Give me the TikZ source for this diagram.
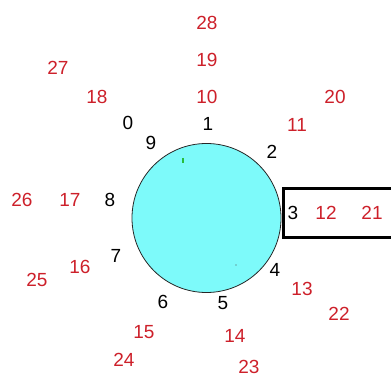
\documentclass[tikz,border=0pt]{standalone}
\usepackage{fontspec}
\setmainfont{Liberation Sans}
\usepackage{tikz}
\definecolor{discfill}{RGB}{125,250,250}
\definecolor{numred}{RGB}{205,32,42}
\definecolor{markgreen}{RGB}{40,190,60}

\tikzset{
  numtext/.style={inner sep=0pt,font=\fontsize{19}{22}\selectfont},
  blk/.style={numtext,text=black},
  rd/.style={numtext,text=numred},
}

\begin{document}
\begin{tikzpicture}[x=1pt,y=-1pt]
  \useasboundingbox (0,0) rectangle (391,377);
  % the disc
  \coordinate (c) at (206.5,218);
  \filldraw[fill=discfill,draw=black!85,line width=0.8pt] (c) circle (74.5);
  \draw[markgreen,line width=1.2pt] (183,158) -- (183,163);
  \fill[black!70] (236,265) circle (0.7);
  % box around position 3
  \draw[line width=3pt] (396,188) -| (283,237) -- (396,237);
  % inner ring
  \node[blk] (n0) at (128,123) {0};
  \node[blk] (n1) at (208,124) {1};
  \node[blk] (n2) at (272,152) {2};
  \node[blk] (n3) at (293,213) {3};
  \node[blk] (n4) at (275,270) {4};
  \node[blk] (n5) at (223,303) {5};
  \node[blk] (n6) at (163,302) {6};
  \node[blk] (n7) at (116,256) {7};
  \node[blk] (n8) at (110,200) {8};
  \node[blk] (n9) at (151,143) {9};
  % second ring
  \node[rd] (n10) at (207,97) {10};
  \node[rd] (n11) at (297,125) {11};
  \node[rd] (n12) at (326,213) {12};
  \node[rd] (n13) at (302,289) {13};
  \node[rd] (n14) at (235,336) {14};
  \node[rd] (n15) at (144,332) {15};
  \node[rd] (n16) at (80,267) {16};
  \node[rd] (n17) at (70,200) {17};
  \node[rd] (n18) at (97,97) {18};
  % third ring
  \node[rd] (n19) at (207,60) {19};
  \node[rd] (n20) at (335,97) {20};
  \node[rd] (n21) at (372,213) {21};
  \node[rd] (n22) at (339,314) {22};
  \node[rd] (n23) at (249,367) {23};
  \node[rd] (n24) at (124,360) {24};
  \node[rd] (n25) at (37,280) {25};
  \node[rd] (n26) at (22,200) {26};
  \node[rd] (n27) at (58,68) {27};
  \node[rd] (n28) at (207,23) {28};
\end{tikzpicture}
\end{document}
